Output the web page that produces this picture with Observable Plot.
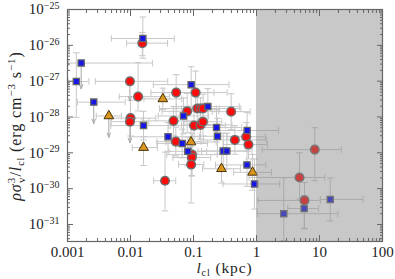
<!DOCTYPE html>
<html><head><meta charset="utf-8">
<script src="https://cdn.jsdelivr.net/npm/d3@7"></script>
<script src="https://cdn.jsdelivr.net/npm/@observablehq/plot@0.6"></script>
<style>html,body{margin:0;padding:0;background:#fff}svg{display:block}</style>
</head><body><div id="chart"></div>
<script>
// ---- data (l_cl in kpc, rho sigma^3 / l_cl in erg cm^-3 s^-1); errors in dex ----
const redX   = [0.0154,0.0132,0.0100,0.0531,0.108,0.115,0.129,0.142,0.0794,0.396,0.0482,0.102,0.129,0.141,0.0524,0.453,0.687,0.746,0.0946,0.094,0.0918,0.0353,8.41,4.82,5.78];
const redY   = [1.15e-26,3.7e-28,9.3e-29,4.8e-28,4.8e-28,1.72e-28,1.72e-28,1.72e-28,1.44e-28,1.41e-28,7.8e-29,5.75e-29,6.0e-29,7.4e-29,2.06e-29,2.29e-29,2.8e-29,1.7e-29,8.9e-30,7.4e-30,4.7e-30,1.66e-30,1.23e-29,2.05e-30,4.7e-31];
const redXLo = [0.25,0.3,0.3,0.4,0.5,0.6,0.3,0.3,0.4,0.3,0.5,0.4,0.3,0.3,0.3,0.5,0.3,0.4,0.4,0.3,0.2,0.18,0.835,0.8,0.74];
const redXHi = [0.4,0.5,0.4,0.6,0.5,0.3,0.3,0.6,0.5,0.3,0.4,0.5,0.5,0.3,0.4,0.5,0.3,0.3,0.4,0.3,0.2,0.17,0.42,0.4,0.25];
const redYLo = [0.35,0.4,0.5,0.7,0.5,0.4,0.3,0.4,0.6,0.5,0.4,0.5,0.4,0.4,0.4,0.4,0.4,0.4,0.6,0.5,1.07,0.84,0.87,0.6,0.8];
const redYHi = [0.3,0.95,0.5,0.5,0.6,0.5,0.3,0.4,0.5,0.5,0.4,0.5,0.4,0.5,0.4,0.4,0.4,0.4,0.6,0.5,0.5,0.8,0.61,0.69,0.5];

const blueX   = [0.0157,0.00138,0.0161,0.0918,0.169,0.0693,0.232,0.711,0.0394,0.0662,0.24,0.0813,0.296,0.338,0.706,0.93,14.8,5.71,2.71];
const blueY   = [1.55e-26,9.8e-28,5.75e-29,8.0e-28,1.95e-28,1.07e-28,5.1e-29,4.2e-29,2.8e-29,1.82e-29,2.9e-29,1.1e-29,1.12e-29,1.12e-29,4.6e-30,1.35e-30,5.0e-31,2.8e-31,2.0e-31];
const blueXLo = [0.5,0.13,0.52,0.6,0.5,0.4,0.4,0.5,0.6,0.4,0.4,0.3,0.4,0.4,0.5,0.5,0.155,0.26,0.42];
const blueXHi = [0.5,0.2,0.43,0.6,0.5,0.4,0.4,0.5,0.5,0.4,0.5,0.3,0.4,0.4,0.3,0.4,0.52,0.23,0.86];
const blueYLo = [0.55,1.0,0.4,0.6,0.5,0.5,0.4,0.5,0.4,0.4,0.5,0.4,0.5,0.5,0.6,0.7,0.6,0.55,0.75];
const blueYHi = [0.6,0.8,0.4,0.5,0.5,0.5,0.5,0.5,0.4,0.4,0.5,0.4,0.5,0.5,0.6,0.7,0.6,0.35,1.0];

const triX   = [0.0326,0.0912,0.0161,0.278,0.865];
const triY   = [3.2e-28,2.0e-29,1.4e-29,3.6e-30,2.85e-30];
const triXLo = [0.3,0.4,0.18,0.3,0.3];
const triXHi = [0.3,0.4,0.22,0.3,0.3];
const triYLo = [0.3,0.5,0.5,0.4,0.5];
const triYHi = [0.3,0.5,0.3,0.4,0.5];

// upper limits (arrow drop in dex)
const limSeries = ["red","red","blue","blue","tri"];
const limX      = [0.0098,0.0098,0.00165,0.00261,0.00453];
const limY      = [9.9e-28,7.4e-29,3.2e-27,2.6e-28,1.07e-28];
const limXLo    = [0.55,0.3,0.2,0.26,0.2];
const limXHi    = [0.6,0.3,1.13,0.5,0.2];
const limDrop   = [0.55,0.59,0.72,0.6,0.6];

const shadeFrom = 1, shadeTo = 100;
const xTicks = [0.001,0.01,0.1,1,10,100];
const xTickLabels = ["0.001","0.01","0.1","1","10","100"];
const yTicks = [1e-31,1e-30,1e-29,1e-28,1e-27,1e-26,1e-25];
const xDomain = [0.001,100], yDomain = [3.35e-32,1e-25];

// ---- build rows ----
function rows(series,X,Y,XL,XH,YL,YH){
  return X.map((x,i)=>({series,x,y:Y[i],xlo:x/10**XL[i],xhi:x*10**XH[i],ylo:Y[i]/10**YL[i],yhi:Y[i]*10**YH[i]}));
}
const red = rows("red",redX,redY,redXLo,redXHi,redYLo,redYHi);
const blue = rows("blue",blueX,blueY,blueXLo,blueXHi,blueYLo,blueYHi);
const tri = rows("tri",triX,triY,triXLo,triXHi,triYLo,triYHi);
const lims = limX.map((x,i)=>({series:limSeries[i],x,y:limY[i],xlo:x/10**limXLo[i],xhi:x*10**limXHi[i],tip:limY[i]/10**limDrop[i]}));
const allY = [...red,...blue,...tri];
const allX = [...allY,...lims];

const minor = (lo,hi)=>{const a=[];for(let e=lo;e<hi;e++)for(let m=2;m<=9;m++)a.push(m*10**e);return a;};
const xMinor = minor(-3,2), yMinor = minor(-32,-25).filter(v=>v>=yDomain[0]);

const vcap = {draw(ctx,size){const h=Math.sqrt(size/Math.PI);ctx.moveTo(0,-h);ctx.lineTo(0,h);}};
const hcap = {draw(ctx,size){const h=Math.sqrt(size/Math.PI);ctx.moveTo(-h,0);ctx.lineTo(h,0);}};
const eb = "#c8c8c8";
const axC = "#666";

const tickAxes = [];
for (const anchor of ["bottom","top"]) {
  tickAxes.push(Plot.axisX(xTicks,{anchor,tickSize:-6,tickFormat:()=> "",label:null,stroke:axC}));
  tickAxes.push(Plot.axisX(xMinor,{anchor,tickSize:-3,tickFormat:()=> "",label:null,stroke:axC}));
}
for (const anchor of ["left","right"]) {
  tickAxes.push(Plot.axisY(yTicks,{anchor,tickSize:-6,tickFormat:()=> "",label:null,stroke:axC}));
  tickAxes.push(Plot.axisY(yMinor,{anchor,tickSize:-3,tickFormat:()=> "",label:null,stroke:axC}));
}

const chart = Plot.plot({
  width:395,height:279,
  marginLeft:67,marginRight:13,marginTop:9,marginBottom:38,
  x:{type:"log",domain:xDomain,label:null},
  y:{type:"log",domain:yDomain,label:null},
  style:{fontFamily:"'Liberation Serif', serif",fontSize:"15px",color:"#222",background:"#fff"},
  marks:[
    // error bars
    Plot.ruleY(allX,{y:"y",x1:"xlo",x2:"xhi",stroke:eb,strokeWidth:1}),
    Plot.ruleX(allY,{x:"x",y1:"ylo",y2:"yhi",stroke:eb,strokeWidth:1}),
    Plot.dot(allX,{x:"xlo",y:"y",symbol:vcap,r:3.3,fill:"none",stroke:eb,strokeWidth:1}),
    Plot.dot(allX,{x:"xhi",y:"y",symbol:vcap,r:3.3,fill:"none",stroke:eb,strokeWidth:1}),
    Plot.dot(allY,{x:"x",y:"ylo",symbol:hcap,r:3.3,fill:"none",stroke:eb,strokeWidth:1}),
    Plot.dot(allY,{x:"x",y:"yhi",symbol:hcap,r:3.3,fill:"none",stroke:eb,strokeWidth:1}),
    Plot.arrow(lims,{x1:"x",y1:"y",x2:"x",y2:"tip",stroke:"#a8a8a8",strokeWidth:1,headLength:7,headAngle:40}),
    // markers
    Plot.dot([...tri,...lims.filter(d=>d.series==="tri")],{x:"x",y:"y",symbol:"triangle",r:3.6,fill:"#d8951f",stroke:"#4a3208",strokeWidth:1}),
    Plot.dot([...red,...lims.filter(d=>d.series==="red")],{x:"x",y:"y",r:4.3,fill:"#ff0a0a",stroke:"#6e6e6e",strokeWidth:1.5}),
    Plot.dot([...blue,...lims.filter(d=>d.series==="blue")],{x:"x",y:"y",symbol:"square",r:3.5,fill:"#1616e8",stroke:"#666",strokeWidth:1.3}),
    // shaded region (drawn over)
    Plot.rect([{from:shadeFrom,to:shadeTo}],{x1:"from",x2:"to",fill:"#858585",fillOpacity:0.45}),
    // frame, ticks, labels
    Plot.frame({stroke:axC,strokeWidth:1.2}),
    ...tickAxes,
    Plot.axisX(xTicks,{anchor:"bottom",tickSize:0,tickPadding:5,tickFormat:(d,i)=>xTickLabels[xTicks.indexOf(d)],label:null}),
    Plot.axisY(yTicks,{anchor:"left",tickSize:0,tickPadding:8,tickFormat:d=>"10^"+Math.round(Math.log10(d)),label:null})
  ]
});
document.getElementById("chart").appendChild(chart);

const svg = d3.select(chart);
svg.selectAll("text").each(function(){
  const t = this.textContent;
  if (t.startsWith("10^")) {
    const e = t.slice(3).replace("-","−");
    const s = d3.select(this); s.text("");
    s.append("tspan").text("10");
    s.append("tspan").attr("font-size","10px").attr("dy","-0.55em").text(e);
  }
});
// axis titles
const yt = svg.append("text").attr("transform","translate(15,126) rotate(-90)")
  .attr("text-anchor","middle").attr("font-size","16px").attr("dy","0.35em").attr("fill","#222")
  .attr("letter-spacing","0.9px")
  .attr("font-family","'Liberation Serif', serif");
yt.append("tspan").attr("font-style","italic").text("ρσ");
yt.append("tspan").attr("font-size","11px").attr("dy",-6).text("3");
yt.append("tspan").attr("font-size","11px").attr("dx",-6).attr("dy",10).text("v");
yt.append("tspan").attr("dy",-4).text("/");
yt.append("tspan").attr("font-style","italic").text("l");
yt.append("tspan").attr("font-size","10px").attr("dy",3).text("cl");
yt.append("tspan").attr("dy",-3).text(" (erg cm");
yt.append("tspan").attr("font-size","11px").attr("dy",-6).text("−3");
yt.append("tspan").attr("dy",6).text(" s");
yt.append("tspan").attr("font-size","11px").attr("dy",-6).text("−1");
yt.append("tspan").attr("dy",6).text(")");

const xt = svg.append("text").attr("x",224.5).attr("y",273)
  .attr("text-anchor","middle").attr("font-size","15.5px").attr("fill","#222")
  .attr("letter-spacing","0.9px")
  .attr("font-family","'Liberation Serif', serif");
xt.append("tspan").attr("font-style","italic").text("l");
xt.append("tspan").attr("font-size","10px").attr("dy",3).text("cl");
xt.append("tspan").attr("dy",-3).text(" (kpc)");
</script>
</body></html>
